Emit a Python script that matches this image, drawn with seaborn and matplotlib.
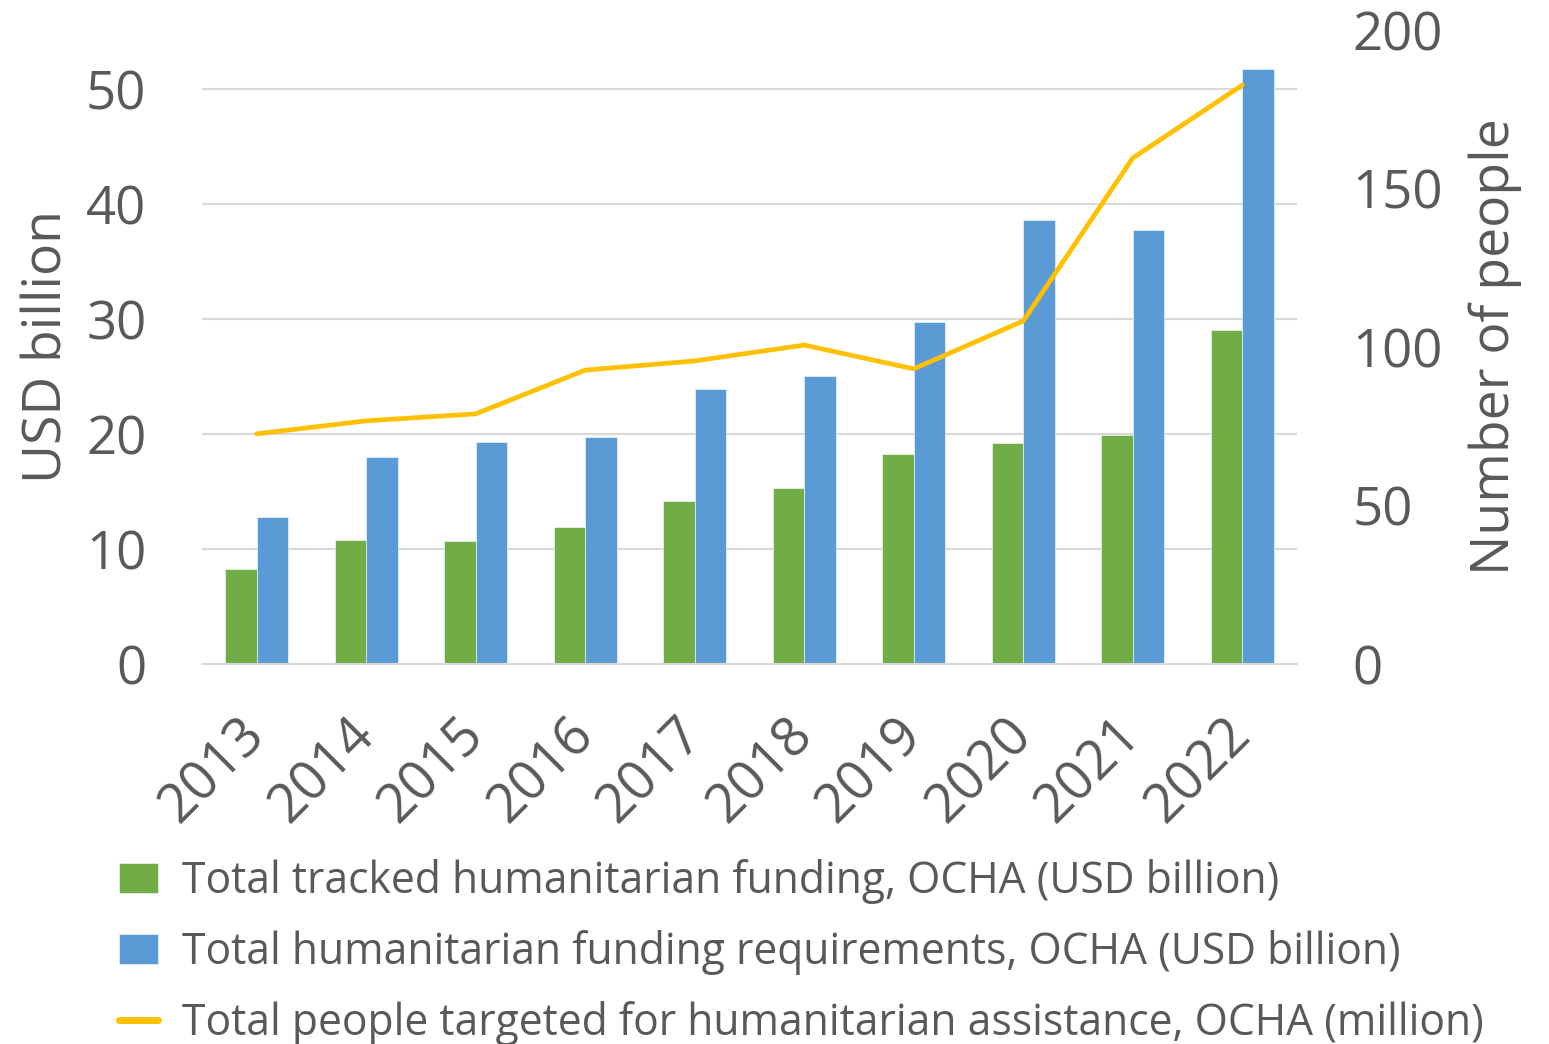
import numpy as np
import pandas as pd
import matplotlib
matplotlib.use("Agg")
import matplotlib.pyplot as plt
import seaborn as sns

sns.set_theme(style="white")
plt.rcParams['font.family'] = ['Open Sans', 'DejaVu Sans']

TEXT = "#595959"
GRID = "#D9D9D9"

years = ["2013", "2014", "2015", "2016", "2017", "2018", "2019", "2020", "2021", "2022"]
tracked_funding = [8.3, 10.8, 10.7, 11.9, 14.2, 15.3, 18.3, 19.2, 19.9, 29.0]
funding_requirements = [12.8, 18.0, 19.3, 19.7, 23.9, 25.0, 29.7, 38.6, 37.7, 51.7]
people_targeted = [72.6, 76.7, 78.9, 92.7, 95.6, 100.6, 93.1, 108.2, 159.6, 182.6]

lab_tracked = "Total tracked humanitarian funding, OCHA (USD billion)"
lab_req = "Total humanitarian funding requirements, OCHA (USD billion)"
lab_people = "Total people targeted for humanitarian assistance, OCHA (million)"

df = pd.DataFrame({
    "year": years * 2,
    "value": tracked_funding + funding_requirements,
    "series": [lab_tracked] * len(years) + [lab_req] * len(years),
})

fig = plt.figure(figsize=(15.49, 10.44), dpi=100)
ax = fig.add_axes([0.1304, 0.364, 0.8373 - 0.1304, 0.9713 - 0.364])

sns.barplot(data=df, x="year", y="value", hue="series",
            palette=["#70AD47", "#5B9BD5"], saturation=1, width=0.575, gap=0,
            edgecolor="white", linewidth=0.4, ax=ax)

ax.set_ylim(0, 200 * 50 / 181.4)
ax.set_yticks([0, 10, 20, 30, 40, 50])
ax.yaxis.grid(True, color=GRID, linewidth=1.5)
ax.set_axisbelow(True)
for s in ["top", "right", "left"]:
    ax.spines[s].set_visible(False)
ax.spines["bottom"].set_color(GRID)
ax.spines["bottom"].set_linewidth(1.5)
ax.set_xlim(-0.5, len(years) - 0.5)
ax.set_xlabel("")
ax.set_ylabel("USD billion", fontsize=38.5, color=TEXT, labelpad=8)
ax.tick_params(axis="y", length=0, pad=40, labelsize=38, labelcolor=TEXT)
ax.tick_params(axis="x", length=0, pad=45, labelsize=39, labelcolor=TEXT)
for t in ax.get_xticklabels():
    t.set_rotation(45)
    t.set_ha("right")
    t.set_va("center")
    t.set_rotation_mode("anchor")

ax2 = ax.twinx()
sns.lineplot(x=np.arange(len(years)), y=people_targeted, color="#FFC000",
             linewidth=3.4, label=lab_people, ax=ax2)
ax2.set_ylim(0, 200)
ax2.set_yticks([0, 50, 100, 150, 200])
for s in ["top", "right", "left", "bottom"]:
    ax2.spines[s].set_visible(False)
ax2.tick_params(axis="y", length=0, pad=40, labelsize=38, labelcolor=TEXT)
ax2.set_ylabel("Number of people", fontsize=38.5, color=TEXT, labelpad=18)

h1, l1 = ax.get_legend_handles_labels()
h2, l2 = ax2.get_legend_handles_labels()
ax.get_legend().remove()
ax2.get_legend().remove()

leg = fig.legend(h1 + h2, l1 + l2, loc="upper left", bbox_to_anchor=(0.0768, 0.177),
                 frameon=False, fontsize=30.7, labelcolor=TEXT, borderpad=0,
                 borderaxespad=0, handlelength=0.92, handleheight=0.7,
                 handletextpad=0.57, labelspacing=0.61)
leg.get_lines()[0].set_linewidth(5)

fig.savefig("out.png", dpi=100)
